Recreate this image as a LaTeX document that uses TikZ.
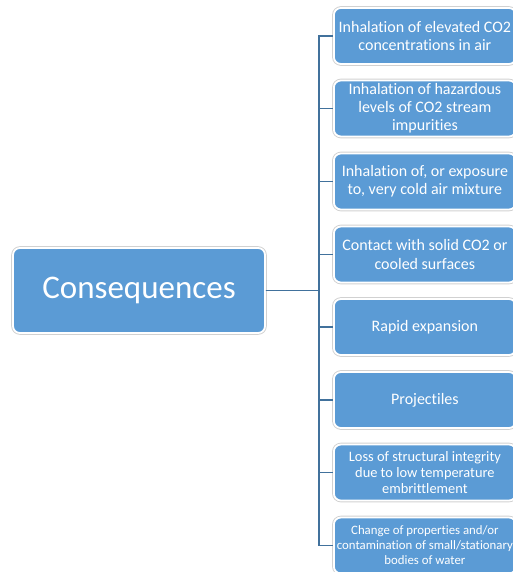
\documentclass[tikz,border=0pt]{standalone}
\usepackage{fontspec}
\setmainfont{Carlito}[Ligatures=NoCommon]
\definecolor{boxblue}{HTML}{5B9BD5}
\definecolor{lineblue}{HTML}{41719C}
\tikzset{
  outline/.style={rounded corners=7pt, fill=boxblue, draw=white, line width=1.8pt,
    preaction={draw=black!18, line width=3.6pt}, text=white, align=center, inner sep=0pt},
  leaf/.style={outline, anchor=west, minimum width=182pt, minimum height=56pt,
    font=\fontsize{16}{18.2}\selectfont},
  conn/.style={draw=lineblue, line width=1.6pt}
}
\begin{document}
\begin{tikzpicture}[x=1pt,y=-1pt]
\useasboundingbox (0,0) rectangle (513,572);
\node[outline, minimum width=252pt, minimum height=85pt, font=\fontsize{33}{40}\selectfont] (main) at (139,290.5) {Consequences};
\node[leaf] (b1) at (333,36) {Inhalation of elevated CO2\\concentrations in air};
\node[leaf] (b2) at (333,108.5) {Inhalation of hazardous\\levels of CO2 stream\\impurities};
\node[leaf] (b3) at (333,181.5) {Inhalation of, or exposure\\to, very cold air mixture};
\node[leaf] (b4) at (333,254.5) {Contact with solid CO2 or\\cooled surfaces};
\node[leaf] (b5) at (333,327) {Rapid expansion};
\node[leaf] (b6) at (333,400) {Projectiles};
\node[leaf, font=\fontsize{14.4}{16}\selectfont] (b7) at (333,472.5) {Loss of structural integrity\\due to low temperature\\embrittlement};
\node[leaf, font=\fontsize{12.8}{15}\selectfont] (b8) at (333,545.5) {Change of properties and/or\\contamination of small/stationary\\bodies of water};
\coordinate (tx) at (319,0);
\foreach \i in {1,...,8}{
  \draw[conn] (main.east) -- (main.east -| tx) |- (b\i.west);
}
\end{tikzpicture}
\end{document}
